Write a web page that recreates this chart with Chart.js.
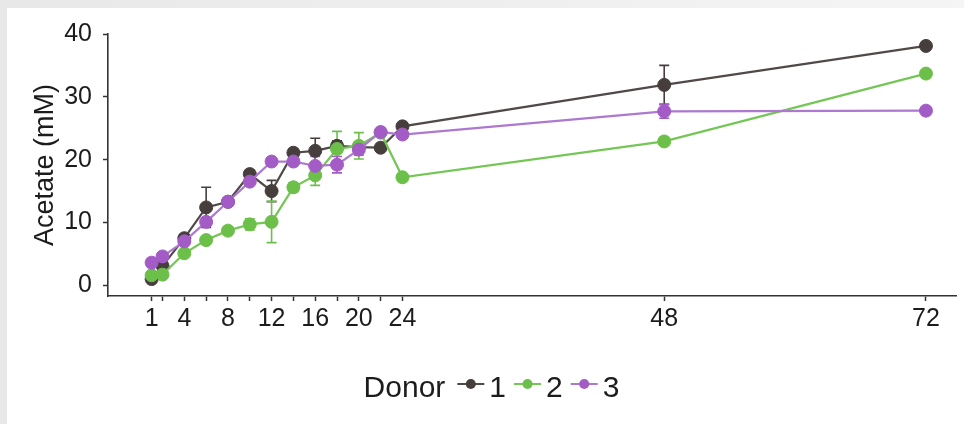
<!DOCTYPE html>
<html>
<head>
<meta charset="utf-8">
<title>Acetate by donor</title>
<script src="https://cdn.jsdelivr.net/npm/chart.js@4.4.1/dist/chart.umd.min.js"></script>
<style>
  html, body { margin: 0; padding: 0; }
  body {
    width: 964px; height: 424px; position: relative; overflow: hidden;
    background: linear-gradient(to right, #e8e8e8, #efefef 55%, #f5f5f5);
  }
  #wrap { position: absolute; left: 7px; top: 8px; width: 957px; height: 416px; background: #fff; }
  canvas { display: block; }
</style>
</head>
<body>
<div id="wrap"><canvas id="acetate" width="957" height="416"></canvas></div>
<script>
// sampling times (h)
const hours = [1, 2, 4, 6, 8, 10, 12, 14, 16, 18, 20, 22, 24, 48, 72];

// mean acetate (mM) per donor
const donor1 = [1.0, 3.1, 7.5, 12.4, 13.3, 17.7, 15.0, 21.1, 21.4, 22.2, 22.0, 21.9, 25.3, 31.9, 38.1];
const donor2 = [1.6, 1.7, 5.1, 7.2, 8.7, 9.7, 10.1, 15.6, 17.5, 21.7, 22.2, 24.3, 17.2, 22.9, 33.7];
const donor3 = [3.6, 4.6, 7.0, 10.1, 13.3, 16.5, 19.7, 19.7, 19.0, 19.2, 21.6, 24.4, 24.0, 27.7, 27.8];

// error bar half-heights
const sd1 = [0.3, 0.5, 0.6, 3.2, 0.5, 0.6, 1.7, 0.5, 2.0, 0.8, 0.5, 0.4, 0.5, 3.1, 0.4];
const sd2 = [0.3, 0.3, 0.4, 0.4, 0.4, 0.9, 3.3, 0.7, 1.6, 2.8, 2.1, 0.4, 0.4, 0.6, 0.3];
const sd3 = [0.3, 0.3, 0.3, 0.5, 0.4, 0.4, 0.4, 0.4, 1.5, 1.3, 0.9, 0.4, 0.4, 1.1, 0.3];

// axis ticks
const xTicks = [1, 2, 4, 6, 8, 10, 12, 14, 16, 18, 20, 22, 24, 48, 72];
const xLabels = [1, 4, 8, 12, 16, 20, 24, 48, 72];
const yTicks = [0, 10, 20, 30, 40];

const FONT = '"Liberation Sans", Arial, Helvetica, sans-serif';
const axisColor = '#333333';
const textColor = '#1c1c1c';

function series(label, values, sd, color, lineColor, order) {
    return {
        label: label,
        data: values.map((v, i) => ({ x: hours[i], y: v })),
        sd: sd,
        borderColor: lineColor,
        backgroundColor: color,
        pointBackgroundColor: color,
        pointBorderColor: color,
        pointRadius: 6.5,
        pointBorderWidth: 1,
        borderWidth: 2.2,
        tension: 0,
        order: order
    };
}

// vertical error bars drawn under the lines/markers
const errorBars = {
    id: 'errorBars',
    beforeDatasetsDraw(chart) {
        const ctx = chart.ctx;
        const xs = chart.scales.x, ys = chart.scales.y;
        chart.data.datasets.forEach((ds, i) => {
            if (!chart.isDatasetVisible(i)) return;
            ctx.save();
            ctx.strokeStyle = ds.pointBackgroundColor;
            ctx.lineWidth = 1.6;
            ds.data.forEach((p, j) => {
                const px = xs.getPixelForValue(p.x);
                const top = ys.getPixelForValue(p.y + ds.sd[j]);
                const bot = ys.getPixelForValue(p.y - ds.sd[j]);
                ctx.beginPath();
                ctx.moveTo(px, top); ctx.lineTo(px, bot);
                ctx.moveTo(px - 5, top); ctx.lineTo(px + 5, top);
                ctx.moveTo(px - 5, bot); ctx.lineTo(px + 5, bot);
                ctx.stroke();
            });
            ctx.restore();
        });
    }
};

// ggplot-style inline legend: "Donor -•- 1 -•- 2 -•- 3"
const donorLegend = {
    id: 'donorLegend',
    afterDraw(chart) {
        const ctx = chart.ctx;
        const sets = chart.data.datasets;
        const title = 'Donor';
        const symW = 27;
        const base = 389, mid = 376;
        ctx.save();
        ctx.font = '30px ' + FONT;
        ctx.textBaseline = 'alphabetic';
        let total = ctx.measureText(title).width + 12;
        sets.forEach((ds, i) => {
            total += symW + 5 + ctx.measureText(ds.label).width + (i < sets.length - 1 ? 8 : 0);
        });
        let cx = chart.width / 2 + 6 - total / 2;
        ctx.fillStyle = textColor;
        ctx.fillText(title, cx, base);
        cx += ctx.measureText(title).width + 12;
        sets.forEach(ds => {
            ctx.strokeStyle = ds.borderColor;
            ctx.lineWidth = 2;
            ctx.beginPath();
            ctx.moveTo(cx, mid); ctx.lineTo(cx + symW, mid);
            ctx.stroke();
            ctx.fillStyle = ds.pointBackgroundColor;
            ctx.beginPath();
            ctx.arc(cx + symW / 2, mid, 5, 0, Math.PI * 2);
            ctx.fill();
            cx += symW + 5;
            ctx.fillStyle = textColor;
            ctx.fillText(ds.label, cx, base);
            cx += ctx.measureText(ds.label).width + 8;
        });
        ctx.restore();
    }
};

new Chart(document.getElementById('acetate'), {
    type: 'line',
    data: {
        datasets: [
            series('1', donor1, sd1, '#463e3d', '#514948', 2),
            series('2', donor2, sd2, '#6cc04a', '#74c655', 1),
            series('3', donor3, sd3, '#a35cc6', '#ad78d0', 0)
        ]
    },
    options: {
        responsive: false,
        animation: false,
        layout: { padding: { top: 22, right: 0, bottom: 0, left: 0 } },
        plugins: {
            legend: { display: false },
            tooltip: { enabled: false }
        },
        scales: {
            x: {
                type: 'linear',
                min: -3,
                max: 74.8,
                afterBuildTicks: s => { s.ticks = xTicks.map(v => ({ value: v })); },
                afterFit: s => { s.height = 128; },
                grid: { drawOnChartArea: false, drawTicks: true, tickLength: 5, tickColor: axisColor, tickWidth: 1.5 },
                border: { display: true, color: axisColor, width: 1.6 },
                ticks: {
                    autoSkip: false,
                    maxRotation: 0,
                    padding: 3,
                    color: textColor,
                    font: { family: FONT, size: 25 },
                    callback: v => xLabels.includes(v) ? String(v) : ''
                }
            },
            y: {
                min: -1.7,
                max: 40,
                afterBuildTicks: s => { s.ticks = yTicks.map(v => ({ value: v })); },
                afterFit: s => { s.width = 101; },
                grid: { drawOnChartArea: false, drawTicks: true, tickLength: 5, tickColor: axisColor, tickWidth: 1.5 },
                border: { display: true, color: axisColor, width: 1.6 },
                ticks: {
                    padding: 11,
                    color: textColor,
                    font: { family: FONT, size: 25 }
                },
                title: {
                    display: true,
                    text: 'Acetate (mM)',
                    color: textColor,
                    font: { family: FONT, size: 27 },
                    padding: { top: 22, bottom: 0 }
                }
            }
        }
    },
    plugins: [errorBars, donorLegend]
});
</script>
</body>
</html>
